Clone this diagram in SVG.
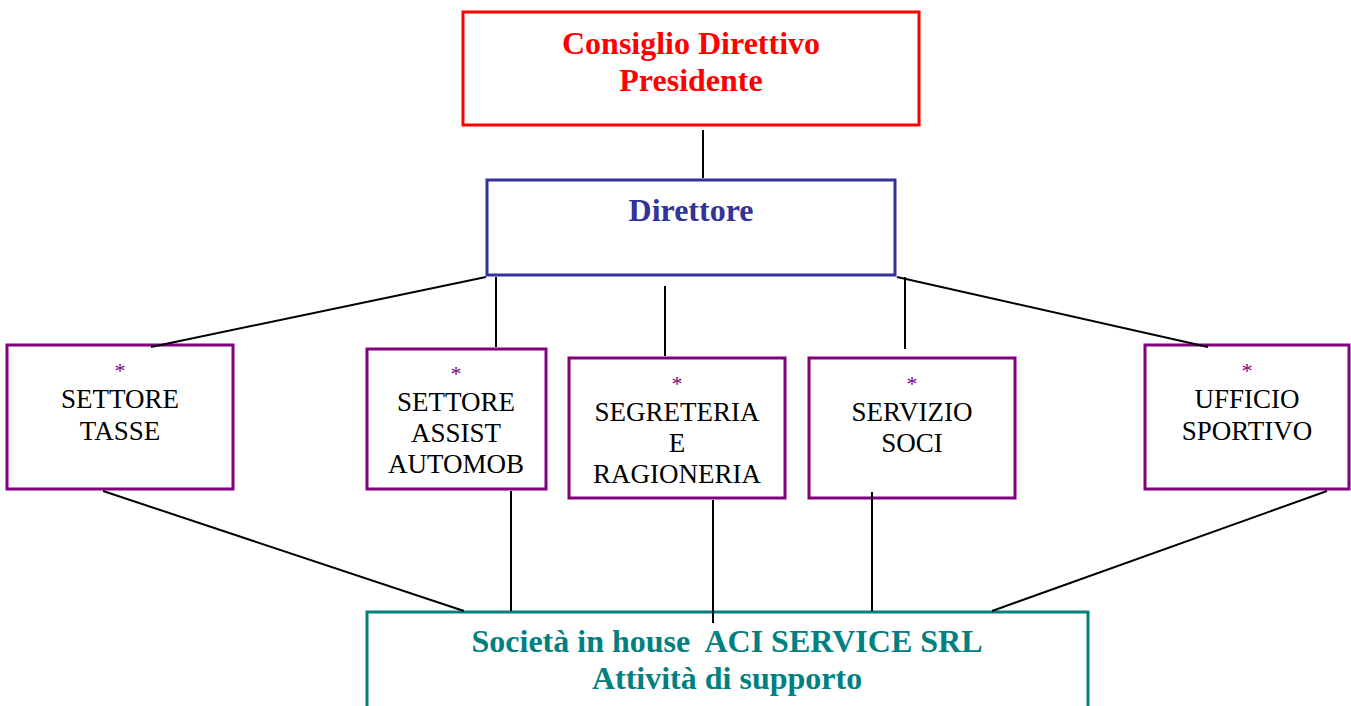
<svg xmlns="http://www.w3.org/2000/svg" width="1351" height="706" viewBox="0 0 1351 706">
<style>
.box{fill:#fff;stroke-width:3}
.red{stroke:#ff0000}
.blue{stroke:#333399}
.pur{stroke:#800080}
.teal{stroke:#008080}
text{font-family:"Liberation Serif","Times New Roman",serif;text-anchor:middle}
.t1{font-size:32px;font-weight:bold;fill:#ff0000}
.t2{font-size:32px;font-weight:bold;fill:#333399}
.t3{font-size:27px;fill:#000}
.ast{font-size:22px;fill:#800080}
.t4{font-size:32px;font-weight:bold;fill:#008080}
#connectors line{stroke:#000;stroke-width:2}
</style>
<rect width="1351" height="706" fill="#fff"/>
<g id="consiglio">
<rect class="box red" x="463" y="12" width="456" height="113"/>
<text class="t1" x="691" y="54">Consiglio Direttivo</text>
<text class="t1" x="691" y="91">Presidente</text>
</g>
<g id="direttore">
<rect class="box blue" x="487" y="180" width="408" height="95"/>
<text class="t2" x="691" y="221">Direttore</text>
</g>
<g id="settore-tasse">
<rect class="box pur" x="7" y="345" width="226" height="144"/>
<text class="ast" x="120" y="378">*</text>
<text class="t3" x="120" y="408">SETTORE</text>
<text class="t3" x="120" y="440">TASSE</text>
</g>
<g id="settore-assist">
<rect class="box pur" x="367" y="349" width="179" height="140"/>
<text class="ast" x="456" y="381">*</text>
<text class="t3" x="456" y="411">SETTORE</text>
<text class="t3" x="456" y="442">ASSIST</text>
<text class="t3" x="456" y="473">AUTOMOB</text>
</g>
<g id="segreteria">
<rect class="box pur" x="569" y="358" width="216" height="140"/>
<text class="ast" x="677" y="391">*</text>
<text class="t3" x="677" y="421">SEGRETERIA</text>
<text class="t3" x="677" y="452">E</text>
<text class="t3" x="677" y="483">RAGIONERIA</text>
</g>
<g id="servizio-soci">
<rect class="box pur" x="809" y="358" width="206" height="140"/>
<text class="ast" x="912" y="391">*</text>
<text class="t3" x="912" y="421">SERVIZIO</text>
<text class="t3" x="912" y="452">SOCI</text>
</g>
<g id="ufficio-sportivo">
<rect class="box pur" x="1145" y="345" width="204" height="144"/>
<text class="ast" x="1247" y="378">*</text>
<text class="t3" x="1247" y="408">UFFICIO</text>
<text class="t3" x="1247" y="440">SPORTIVO</text>
</g>
<g id="aci-service">
<rect class="box teal" x="367" y="612" width="721" height="110"/>
<text class="t4" x="727" y="652" xml:space="preserve">Società in house  ACI SERVICE SRL</text>
<text class="t4" x="727" y="689">Attività di supporto</text>
</g>
<g id="connectors">
<line x1="703" y1="130" x2="703" y2="178"/>
<line x1="486" y1="277" x2="151" y2="347"/>
<line x1="496" y1="277" x2="496" y2="347"/>
<line x1="665" y1="286" x2="665" y2="356"/>
<line x1="905" y1="277" x2="905" y2="349"/>
<line x1="897" y1="277" x2="1208" y2="347"/>
<line x1="103" y1="491" x2="464" y2="611"/>
<line x1="511" y1="491" x2="511" y2="611"/>
<line x1="713" y1="500" x2="713" y2="623"/>
<line x1="872" y1="492" x2="872" y2="611"/>
<line x1="1327" y1="491" x2="992" y2="611"/>
</g>
</svg>
